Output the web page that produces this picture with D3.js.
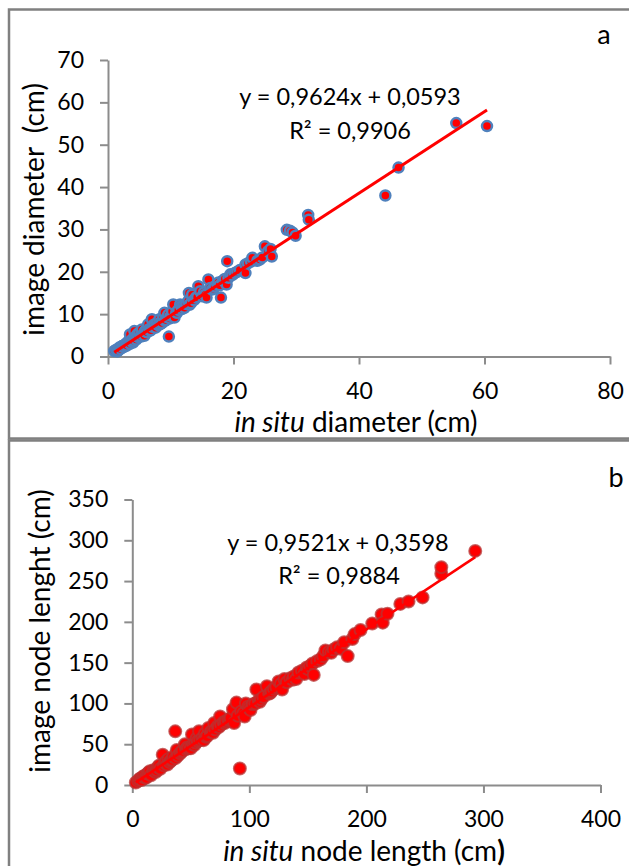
<!DOCTYPE html>
<html lang="en">

<head>
    <meta charset="UTF-8">
    <title>in situ vs image</title>
    <script src="https://unpkg.com/d3@7.8.0/dist/d3.min.js"></script>
    <style>
        body {
            margin: 0px;
            background: #fff;
        }

        text {
            font-family: Lato, 'Open Sans', sans-serif;
            fill: #000;
        }
    </style>
</head>

<body>

    <script>
        // panel a : diameter (cm)
        const diamInSitu = [1.0, 1.3, 1.5, 1.8, 2.0, 2.2, 2.5, 2.6, 2.9, 3.0, 3.2, 3.5, 3.5, 3.7, 3.9, 4.0, 4.2, 4.3, 4.5, 4.7,
            4.8, 5.0, 5.2, 5.4, 5.6, 5.8, 6.0, 6.2, 6.4, 6.6, 6.8, 7.0, 7.1, 7.4, 7.6, 7.8, 8.0, 8.2, 8.4, 8.6,
            8.8, 9.0, 9.2, 9.4, 9.6, 9.7, 9.9, 10.2, 10.4, 10.6, 10.9, 11.2, 11.5, 11.8, 12.0, 12.2, 12.5, 12.8, 12.9, 13.2,
            13.4, 13.7, 14.0, 14.4, 14.7, 15.0, 15.3, 15.7, 16.0, 16.3, 16.6, 17.0, 17.4, 17.8, 18.0, 18.3, 18.6, 18.9, 19.0, 19.2,
            19.5, 20.2, 21.0, 21.9, 21.9, 22.3, 23.0, 23.8, 24.2, 25.0, 25.5, 25.9, 26.1, 28.5, 29.0, 29.4, 29.9, 31.9, 32.0, 44.2,
            46.3, 55.5, 60.4,
            1.6, 2.3, 2.8, 3.3, 4.1, 4.6, 5.3, 5.9, 6.7, 7.3, 8.3, 9.1, 10.0, 11.0, 11.7, 13.0, 14.2, 15.5, 16.8, 17.6,
            19.8, 20.6, 22.8, 24.6];
        const diamImage = [1.3, 1.6, 1.2, 2.1, 1.8, 2.4, 2.2, 2.7, 3.1, 2.6, 3.4, 3.0, 5.2, 3.7, 4.1, 3.3, 6.0, 4.5, 4.0, 5.3,
            4.6, 5.6, 4.8, 6.4, 5.2, 4.9, 6.1, 5.7, 7.6, 6.5, 6.2, 8.8, 7.0, 7.2, 6.8, 7.9, 7.4, 8.8, 8.1, 7.9,
            9.4, 10.3, 8.6, 9.3, 9.9, 4.7, 9.0, 10.6, 12.3, 9.2, 10.4, 11.0, 12.3, 11.2, 12.0, 11.5, 12.4, 13.1, 15.0, 12.6,
            14.6, 13.3, 13.9, 16.6, 15.4, 14.2, 15.1, 13.9, 18.2, 16.2, 15.8, 16.5, 17.1, 16.8, 13.9, 17.9, 18.3, 17.0, 22.5, 18.6,
            19.4, 19.7, 20.4, 21.7, 19.7, 22.0, 23.3, 22.6, 22.9, 26.0, 24.8, 25.4, 23.6, 29.9, 29.7, 29.3, 28.5, 33.4, 32.3, 38.0,
            44.6, 55.1, 54.4,
            1.4, 2.5, 2.5, 3.6, 3.7, 4.9, 4.7, 6.0, 6.1, 7.5, 7.6, 8.4, 9.6, 10.3, 11.9, 12.2, 14.0, 14.6, 16.0, 17.5,
            19.2, 20.0, 22.4, 23.4];

        // panel b : node length (cm)
        const nodeInSitu = [3, 5, 6, 8, 9, 10, 12, 13, 15, 16, 18, 20, 21, 22, 24, 26, 27, 28, 30, 31,
            32, 34, 35, 36.7, 38, 39, 41, 43, 45, 46, 48, 50, 51, 52, 54, 55, 57, 58, 60, 61,
            62, 64, 65, 67, 68, 70, 71, 73, 75, 76, 78, 80, 82, 84, 86, 87, 89, 91.9, 93, 95,
            96, 97, 99, 101, 103, 105, 106, 108, 110, 112, 115, 117, 119, 121, 123, 125, 127, 128, 130, 132,
            135, 138, 140, 142, 145, 147, 149, 152, 154, 155, 158, 161, 163, 165, 168, 172, 175, 178, 181, 184,
            188, 190, 195, 205, 213, 214, 218, 229, 236, 248, 264, 264, 293,
            7, 11, 14, 19, 23, 29, 33, 37, 42, 47, 53, 56, 63, 69, 74, 79, 83, 90, 100, 109, 118, 137, 150, 170];
        const nodeImage = [3, 5, 7, 6, 10, 11, 9, 14, 17, 12, 18, 16, 18, 22, 20, 37, 24, 27, 25, 32,
            28, 31, 35, 65.8, 43, 36, 39, 42, 50, 44, 45, 45, 62, 50, 52, 57, 66, 55, 58, 55,
            63, 60, 70, 65, 66, 76, 68, 72, 84, 74, 77, 78, 80, 82, 93, 76, 101, 20.3, 90, 88,
            84, 100, 96, 92, 99, 100, 117, 104, 105, 108, 121, 112, 115, 118, 120, 127, 124, 117, 130, 126,
            131, 133, 130, 138, 140, 136, 144, 146, 149, 135, 152, 154, 158, 165, 163, 166, 169, 167, 175, 158,
            179, 185, 190, 198, 209, 199, 210, 222, 225, 230, 259, 267, 287,
            8, 9, 15, 17, 24, 29, 30, 33, 41, 46, 49, 54, 59, 64, 71, 76, 80, 85, 94, 102, 113, 129, 142, 162];

        // trend lines (slope, intercept, R²) as printed on the chart
        const fitA = { slope: 0.9624, intercept: 0.0593, eq: 'y = 0,9624x + 0,0593', r2: 'R² = 0,9906' };
        const fitB = { slope: 0.9521, intercept: 0.3598, eq: 'y = 0,9521x + 0,3598', r2: 'R² = 0,9884' };

        const ticksA_x = [0, 20, 40, 60, 80];
        const ticksA_y = [0, 10, 20, 30, 40, 50, 60, 70];
        const ticksB_x = [0, 100, 200, 300, 400];
        const ticksB_y = [0, 50, 100, 150, 200, 250, 300, 350];

        const myTheme = {
            axisStroke: '#8c8c8c',
            tickFontSize: '23px',
            titleFontSize: '28px',
            eqFontSize: '23.5px',
            letterFontSize: '27px',
            tickSize: 8
        };

        const svg = d3.select('body').append('svg')
            .attr('width', 629)
            .attr('height', 866);

        // panel frames
        svg.append('rect')
            .attr('x', 9).attr('y', 9.5)
            .attr('width', 660).attr('height', 429)
            .attr('fill', 'none').attr('stroke', '#808080').attr('stroke-width', 2.5);
        svg.append('rect')
            .attr('x', 9).attr('y', 440.5)
            .attr('width', 660).attr('height', 460)
            .attr('fill', 'none').attr('stroke', '#808080').attr('stroke-width', 2.5);

        scatterPanel(svg, Object.assign({}, myTheme, {
            xs: diamInSitu, ys: diamImage, fit: fitA,
            xDomain: [0, 80], xRange: [108, 610], yDomain: [0, 70], yRange: [356.5, 60],
            xTicks: ticksA_x, yTicks: ticksA_y,
            letter: 'a', letterPos: [604, 44],
            eqPos: [350, 105], r2Pos: [350, 139],
            xTitle: [['in situ', 'italic', 'normal'], [' diameter (cm)', 'normal', 'normal']],
            xTitlePos: [356, 432],
            yTitle: 'image diameter  (cm)', yTitlePos: [44, 209.5],
            marker: { r: 5, fill: '#ff0000', stroke: '#4f81bd', width: 2.5 },
            lineWidth: 3
        }));

        scatterPanel(svg, Object.assign({}, myTheme, {
            xs: nodeInSitu, ys: nodeImage, fit: fitB,
            xDomain: [0, 400], xRange: [132.3, 600.5], yDomain: [0, 350], yRange: [785, 499.5],
            xTicks: ticksB_x, yTicks: ticksB_y,
            letter: 'b', letterPos: [616, 487],
            eqPos: [338, 551], r2Pos: [339, 584],
            xTitle: [['in situ', 'italic', 'normal'], [' node length (cm', 'normal', 'normal'], [')', 'normal', 'bold']],
            xTitlePos: [364, 861],
            yTitle: 'image node lenght (cm)', yTitlePos: [50, 631],
            marker: { r: 6, fill: '#ff0000', stroke: 'rgba(185,50,50,0.75)', width: 2 },
            lineWidth: 2.5
        }));

        function scatterPanel(selection, props) {
            const { xs, ys, fit, xDomain, xRange, yDomain, yRange, xTicks, yTicks,
                axisStroke, tickFontSize, titleFontSize, eqFontSize, letterFontSize, tickSize,
                marker, lineWidth } = props;

            const xScale = d3.scaleLinear().domain(xDomain).range(xRange);
            const yScale = d3.scaleLinear().domain(yDomain).range(yRange);

            const g = selection.append('g');

            //Y Axis
            const yAxisG = g.append('g')
                .attr('transform', `translate(${xRange[0]},0)`)
                .call(d3.axisLeft(yScale).tickValues(yTicks).tickSize(tickSize).tickPadding(16).tickSizeOuter(0));
            //X Axis
            const xAxisG = g.append('g')
                .attr('transform', `translate(0,${yRange[0]})`)
                .call(d3.axisBottom(xScale).tickValues(xTicks).tickSize(tickSize).tickPadding(18).tickSizeOuter(0));

            [xAxisG, yAxisG].forEach(a => {
                a.selectAll('.domain').attr('stroke', axisStroke).attr('stroke-width', 2);
                a.selectAll('.tick line').attr('stroke', axisStroke).attr('stroke-width', 2);
                a.selectAll('.tick text')
                    .style('font-size', tickFontSize)
                    .style('font-family', 'Lato, sans-serif')
                    .attr('fill', '#000');
            });

            // points
            g.append('g').selectAll('circle')
                .data(xs.map((x, i) => [x, ys[i]]).sort((p, q) => p[0] - q[0]))
                .enter().append('circle')
                .attr('cx', d => xScale(d[0]))
                .attr('cy', d => yScale(d[1]))
                .attr('r', marker.r)
                .attr('fill', marker.fill)
                .attr('stroke', marker.stroke)
                .attr('stroke-width', marker.width);

            // linear trend line
            const x0 = d3.min(xs), x1 = d3.max(xs);
            g.append('line')
                .attr('x1', xScale(x0)).attr('y1', yScale(fit.slope * x0 + fit.intercept))
                .attr('x2', xScale(x1)).attr('y2', yScale(fit.slope * x1 + fit.intercept))
                .attr('stroke', '#ff0000')
                .attr('stroke-width', lineWidth);

            // equation
            g.append('text')
                .attr('x', props.eqPos[0]).attr('y', props.eqPos[1])
                .attr('text-anchor', 'middle')
                .style('font-size', eqFontSize)
                .text(fit.eq);
            g.append('text')
                .attr('x', props.r2Pos[0]).attr('y', props.r2Pos[1])
                .attr('text-anchor', 'middle')
                .style('font-size', eqFontSize)
                .text(fit.r2);

            // panel letter
            g.append('text')
                .attr('x', props.letterPos[0]).attr('y', props.letterPos[1])
                .attr('text-anchor', 'middle')
                .style('font-size', letterFontSize)
                .text(props.letter);

            // axis titles
            const xt = g.append('text')
                .attr('x', props.xTitlePos[0]).attr('y', props.xTitlePos[1])
                .attr('text-anchor', 'middle')
                .style('font-size', titleFontSize);
            props.xTitle.forEach(p => {
                xt.append('tspan')
                    .style('font-style', p[1])
                    .style('font-weight', p[2])
                    .style('white-space', 'pre')
                    .text(p[0]);
            });

            g.append('text')
                .attr('transform', `translate(${props.yTitlePos[0]},${props.yTitlePos[1]}) rotate(-90)`)
                .attr('text-anchor', 'middle')
                .style('font-size', titleFontSize)
                .style('white-space', 'pre')
                .text(props.yTitle);
        }
    </script>

</body>

</html>
